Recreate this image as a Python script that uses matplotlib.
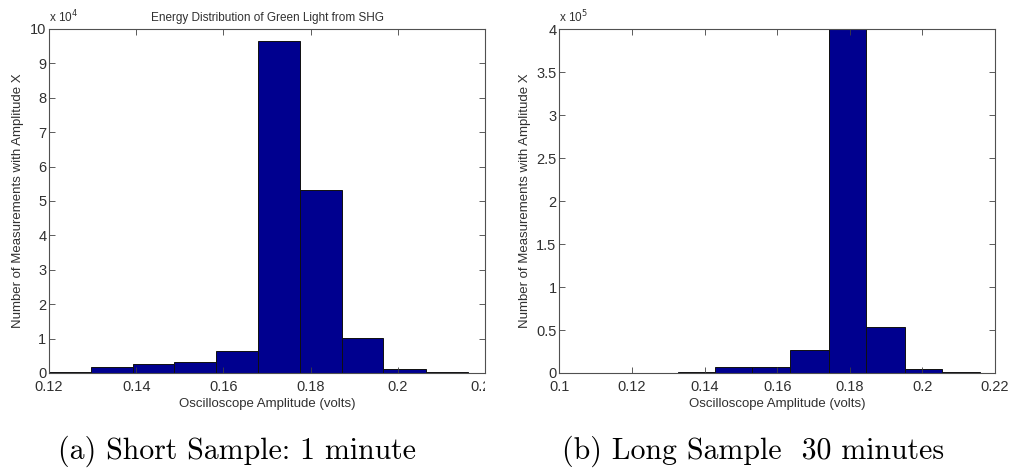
import numpy as np
import matplotlib
matplotlib.use('Agg')
import matplotlib.pyplot as plt
from matplotlib.transforms import Bbox, TransformedBbox

# short sample (1 minute)
short_edges = [0.1200, 0.1296, 0.1392, 0.1487, 0.1583, 0.1680, 0.1776, 0.1871, 0.1967, 0.2064, 0.2160]
short_counts = [400, 1700, 2600, 3100, 6500, 96400, 53200, 10200, 1100, 200]
short_xticks = [0.12, 0.14, 0.16, 0.18, 0.20, 0.22]
short_xlabels = ['0.12', '0.14', '0.16', '0.18', '0.2', '0.22']
short_yticks = [0, 1, 2, 3, 4, 5, 6, 7, 8, 9, 10]

# long sample (30 minutes)
long_edges = [0.1118, 0.1222, 0.1326, 0.1429, 0.1531, 0.1636, 0.1743, 0.1846, 0.1951, 0.2054, 0.2158]
long_counts = [400, 400, 1500, 6500, 6500, 27000, 460000, 53000, 4500, 800]
long_xticks = [0.10, 0.12, 0.14, 0.16, 0.18, 0.20, 0.22]
long_xlabels = ['0.1', '0.12', '0.14', '0.16', '0.18', '0.2', '0.22']
long_yticks = [0, 0.5, 1, 1.5, 2, 2.5, 3, 3.5, 4]

plt.rcParams['font.family'] = ['Liberation Sans', 'DejaVu Sans']
txt = '#303030'
bar_color = '#00008f'

fig = plt.figure(figsize=(10.11, 4.70), dpi=100)
ax1 = fig.add_axes([0.0485, 0.2064, 0.4312, 0.7319])
ax2 = fig.add_axes([0.5532, 0.2064, 0.4310, 0.7312])


def draw(ax, edges, counts, xticks, xlabels, yticks, scale, xlim):
    edges = np.array(edges)
    ax.bar(edges[:-1], counts, width=np.diff(edges), align='edge',
           color=bar_color, edgecolor='#101010', linewidth=0.7)
    ax.set_xlim(*xlim)
    ax.set_ylim(0, yticks[-1] * scale)
    ax.set_xticks(xticks)
    ax.set_xticklabels(xlabels)
    ax.set_yticks([v * scale for v in yticks])
    ax.set_yticklabels(['%g' % v for v in yticks])
    ax.tick_params(direction='in', top=True, right=True, length=4, width=0.6,
                   labelsize=10.5, colors='#404040', labelcolor=txt, pad=2)
    ax.tick_params(axis='x', pad=5)
    for s in ax.spines.values():
        s.set_color('#505050')
        s.set_linewidth(0.8)
    ax.set_xlabel('Oscilloscope Amplitude (volts)', fontsize=9.5, color=txt, labelpad=3)
    ax.set_ylabel('Number of Measurements with Amplitude X', fontsize=9.5, color=txt, labelpad=4)


draw(ax1, short_edges, short_counts, short_xticks, short_xlabels, short_yticks, 1e4, (0.12, 0.22))
draw(ax2, long_edges, long_counts, long_xticks, long_xlabels, long_yticks, 1e5, (0.10, 0.22))

ax1.set_title('Energy Distribution of Green Light from SHG', fontsize=8.5, color=txt, pad=6)
ax1.text(0.0, 1.012, r'x 10$^4$', transform=ax1.transAxes, fontsize=8.5, color=txt, va='bottom')
ax2.text(0.0, 1.012, r'x 10$^5$', transform=ax2.transAxes, fontsize=8.5, color=txt, va='bottom')

# last tick label of the left panel is cut off at the panel edge
clip = TransformedBbox(Bbox([[0, 0], [0.4797, 1]]), fig.transFigure)
lab = ax1.get_xticklabels()[-1]
lab.set_clip_box(clip)
lab.set_clip_on(True)

fig.text(0.234, 0.04, '(a) Short Sample: 1 minute', family='cmr10', fontsize=21.5, ha='center', va='center')
fig.text(0.745, 0.04, '(b) Long Sample  30 minutes', family='cmr10', fontsize=21.5, ha='center', va='center')

fig.savefig('out.png', dpi=100)
